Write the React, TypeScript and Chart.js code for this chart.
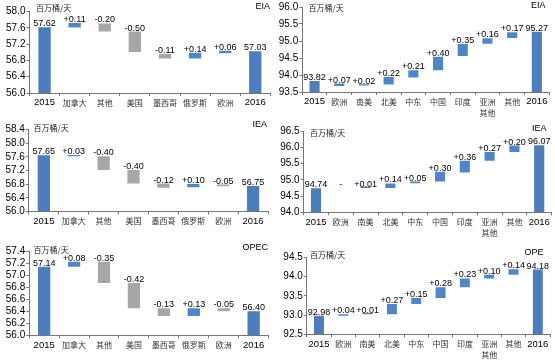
import { useEffect, useRef } from 'react';
import { Chart, registerables } from 'chart.js';
Chart.register(...registerables);

// ---------- data ----------
const UNIT_LABEL = '百万桶/天';

const leftCategories = ['2015', '加拿大', '其他', '美国', '墨西哥', '俄罗斯', '欧洲', '2016'];
const rightCategories = ['2015', '欧洲', '南美', '北美', '中东', '中国', '印度', ['亚洲', '其他'], '其他', '2016'];

// EIA supply (left top)
const eiaSupplyValues = [57.62, 0.11, -0.2, -0.5, -0.11, 0.14, 0.06, 57.03];
const eiaSupplyBases = [null, 57.61, 57.71, 57.51, 56.96, 56.85, 56.98, null];
const eiaSupplyTicks = [56.0, 56.4, 56.8, 57.2, 57.6, 58.0];

// EIA demand (right top)
const eiaDemandValues = [93.82, 0.07, 0.02, 0.22, 0.21, 0.4, 0.35, 0.16, 0.17, 95.27];
const eiaDemandBases = [null, 93.68, 93.69, 93.72, 93.93, 94.14, 94.56, 94.92, 95.09, null];
const eiaDemandTicks = [93.5, 94.0, 94.5, 95.0, 95.5, 96.0];

// IEA supply (left middle)
const ieaSupplyValues = [57.65, 0.03, -0.4, -0.4, -0.12, 0.1, -0.05, 56.75];
const ieaSupplyBases = [null, 57.62, 57.62, 57.22, 56.82, 56.71, 56.79, null];
const ieaSupplyTicks = [56.0, 56.4, 56.8, 57.2, 57.6, 58.0, 58.4];

// IEA demand (right middle)
const ieaDemandValues = [94.74, 0, 0.01, 0.14, 0.05, 0.3, 0.36, 0.27, 0.2, 96.07];
const ieaDemandBases = [null, 94.74, 94.75, 94.75, 94.9, 94.95, 95.23, 95.59, 95.86, null];
const ieaDemandTicks = [94.0, 94.5, 95.0, 95.5, 96.0, 96.5];

// OPEC supply (left bottom)
const opecSupplyValues = [57.14, 0.08, -0.35, -0.42, -0.13, 0.13, -0.05, 56.4];
const opecSupplyBases = [null, 57.14, 57.22, 56.87, 56.45, 56.32, 56.45, null];
const opecSupplyTicks = [56.0, 56.2, 56.4, 56.6, 56.8, 57.0, 57.2, 57.4];

// OPEC demand (right bottom)
const opecDemandValues = [92.98, 0.04, 0.01, 0.27, 0.15, 0.28, 0.23, 0.1, 0.14, 94.18];
const opecDemandBases = [null, 92.98, 93.02, 93.02, 93.29, 93.44, 93.72, 93.95, 94.05, null];
const opecDemandTicks = [92.5, 93.0, 93.5, 94.0, 94.5];

// ---------- styles / layout ----------
const TOTAL_COLOR = '#4D7EBC';
const UP_COLOR = '#4F86CA';
const DOWN_COLOR = '#A6A6A6';
const AXIS_COLOR = '#767676';
const LATIN = '"Liberation Sans", Arial, sans-serif';
const CJK = '"Noto Sans CJK SC", sans-serif';

type Panel = {
  source: string;
  categories: (string | string[])[];
  values: number[];
  bases: (number | null)[];
  ticks: number[];
  box: [number, number, number, number]; // canvas left, top, width, height
  plot: [number, number, number, number]; // plot left, right, top, bottom (page coords)
  sourcePos: [number, number];
  unitPos: [number, number];
};

const panels: Panel[] = [
  {
    source: 'EIA', categories: leftCategories, values: eiaSupplyValues, bases: eiaSupplyBases, ticks: eiaSupplyTicks,
    box: [0, 0, 277, 118], plot: [29.5, 270.3, 11.7, 93], sourcePos: [270, 6.5], unitPos: [36, 8],
  },
  {
    source: 'EIA', categories: rightCategories, values: eiaDemandValues, bases: eiaDemandBases, ticks: eiaDemandTicks,
    box: [277, 0, 278, 118], plot: [302.2, 549.2, 7, 92], sourcePos: [545.5, 6], unitPos: [308.5, 8],
  },
  {
    source: 'IEA', categories: leftCategories, values: ieaSupplyValues, bases: ieaSupplyBases, ticks: ieaSupplyTicks,
    box: [0, 118, 277, 122], plot: [28.9, 268, 129.7, 211.5], sourcePos: [267, 125], unitPos: [33.5, 128],
  },
  {
    source: 'IEA', categories: rightCategories, values: ieaDemandValues, bases: ieaDemandBases, ticks: ieaDemandTicks,
    box: [277, 118, 278, 122], plot: [303.6, 551.6, 131.3, 212.3], sourcePos: [546.5, 129], unitPos: [310, 133.3],
  },
  {
    source: 'OPEC', categories: leftCategories, values: opecSupplyValues, bases: opecSupplyBases, ticks: opecSupplyTicks,
    box: [0, 240, 277, 124], plot: [29.2, 268.6, 251, 335.3], sourcePos: [268, 248], unitPos: [33.5, 249.7],
  },
  {
    source: 'OPE', categories: rightCategories, values: opecDemandValues, bases: opecDemandBases, ticks: opecDemandTicks,
    box: [277, 240, 278, 124], plot: [306.8, 550, 257.3, 334.3], sourcePos: [543.5, 253], unitPos: [310, 255],
  },
];

function isNumericLabel(lab: string | string[]) {
  const s = Array.isArray(lab) ? lab[0] : lab;
  return /^\d/.test(s);
}

function PanelChart({ p }: { p: Panel }) {
  const ref = useRef<HTMLCanvasElement | null>(null);
  useEffect(() => {
    if (!ref.current) return;
    const [bx, by, bw, bh] = p.box;
    const [pl, pr, pt, pb] = p.plot;
    const yMin = p.ticks[0];
    const yMax = p.ticks[p.ticks.length - 1];
    const data = p.values.map((v, i) => {
      const b = p.bases[i];
      if (b == null) return [yMin, v];
      if (v === 0) return null;
      return [b, b + v];
    });
    const colors = p.values.map((v, i) => (p.bases[i] == null ? TOTAL_COLOR : v >= 0 ? UP_COLOR : DOWN_COLOR));

    const labelPlugin = {
      id: 'wfLabels',
      afterDatasetsDraw(chart: any) {
        const ctx = chart.ctx;
        const xs = chart.scales.x;
        const ys = chart.scales.y;
        ctx.save();
        ctx.fillStyle = '#000';
        ctx.font = `9px ${LATIN}`;
        ctx.textAlign = 'center';
        ctx.textBaseline = 'alphabetic';
        p.values.forEach((v, i) => {
          const b = p.bases[i];
          const top = b == null ? v : Math.max(b, b + v);
          const txt = b == null ? v.toFixed(2) : v === 0 ? '-' : (v > 0 ? '+' : '') + v.toFixed(2);
          ctx.fillText(txt, xs.getPixelForValue(i), ys.getPixelForValue(top) - 1);
        });
        ctx.font = `9px ${LATIN}`;
        ctx.textAlign = 'right';
        ctx.textBaseline = 'middle';
        ctx.fillText(p.source, p.sourcePos[0] - bx, p.sourcePos[1] - by);
        ctx.font = `8px ${CJK}`;
        ctx.textAlign = 'left';
        ctx.fillStyle = '#222';
        ctx.fillText(UNIT_LABEL, p.unitPos[0] - bx, p.unitPos[1] - by);
        ctx.restore();
      },
    };

    const chart = new Chart(ref.current, {
      type: 'bar',
      data: {
        labels: p.categories as any,
        datasets: [
          {
            data: data as any,
            backgroundColor: colors,
            borderWidth: 0,
            barPercentage: 0.41,
            categoryPercentage: 1,
            minBarLength: 1.2,
          },
        ],
      },
      options: {
        responsive: false,
        animation: false,
        devicePixelRatio: 1,
        layout: { padding: { left: 0, top: pt - by, right: bx + bw - pr, bottom: 0 } },
        plugins: { legend: { display: false }, tooltip: { enabled: false }, title: { display: false } },
        scales: {
          x: {
            grid: { display: true, drawOnChartArea: false, drawTicks: true, tickLength: 3, color: AXIS_COLOR, offset: true },
            border: { display: true, color: AXIS_COLOR, width: 1 },
            ticks: {
              autoSkip: false,
              maxRotation: 0,
              padding: 1,
              color: (c: any) => (isNumericLabel(p.categories[c.index]) ? '#000' : '#333'),
              font: (c: any) =>
                isNumericLabel(p.categories[c.index])
                  ? { family: LATIN, size: 9.5, lineHeight: 1.2 }
                  : { family: CJK, size: 8, lineHeight: 1.4 },
            },
            afterFit: (s: any) => {
              s.height = by + bh - pb;
            },
          },
          y: {
            min: yMin,
            max: yMax,
            grid: { display: true, drawOnChartArea: false, drawTicks: true, tickLength: 3, color: AXIS_COLOR },
            border: { display: true, color: AXIS_COLOR, width: 1 },
            ticks: {
              autoSkip: false,
              padding: 1,
              color: '#000',
              font: { family: LATIN, size: 10, lineHeight: 1.2 },
              callback: (v: any) => Number(v).toFixed(1),
            },
            afterBuildTicks: (s: any) => {
              s.ticks = p.ticks.map((t) => ({ value: t }));
            },
            afterFit: (s: any) => {
              s.width = pl - bx;
            },
          },
        },
      },
      plugins: [labelPlugin],
    });
    return () => chart.destroy();
  }, [p]);
  const [bx, by, bw, bh] = p.box;
  return (
    <canvas
      ref={ref}
      width={bw}
      height={bh}
      style={{ position: 'absolute', left: bx, top: by, width: bw, height: bh }}
    />
  );
}

export default function App() {
  return (
    <div style={{ position: 'absolute', left: 0, top: 0, width: 555, height: 364, background: '#fff', overflow: 'hidden' }}>
      {panels.map((p, i) => (
        <PanelChart key={i} p={p} />
      ))}
    </div>
  );
}
